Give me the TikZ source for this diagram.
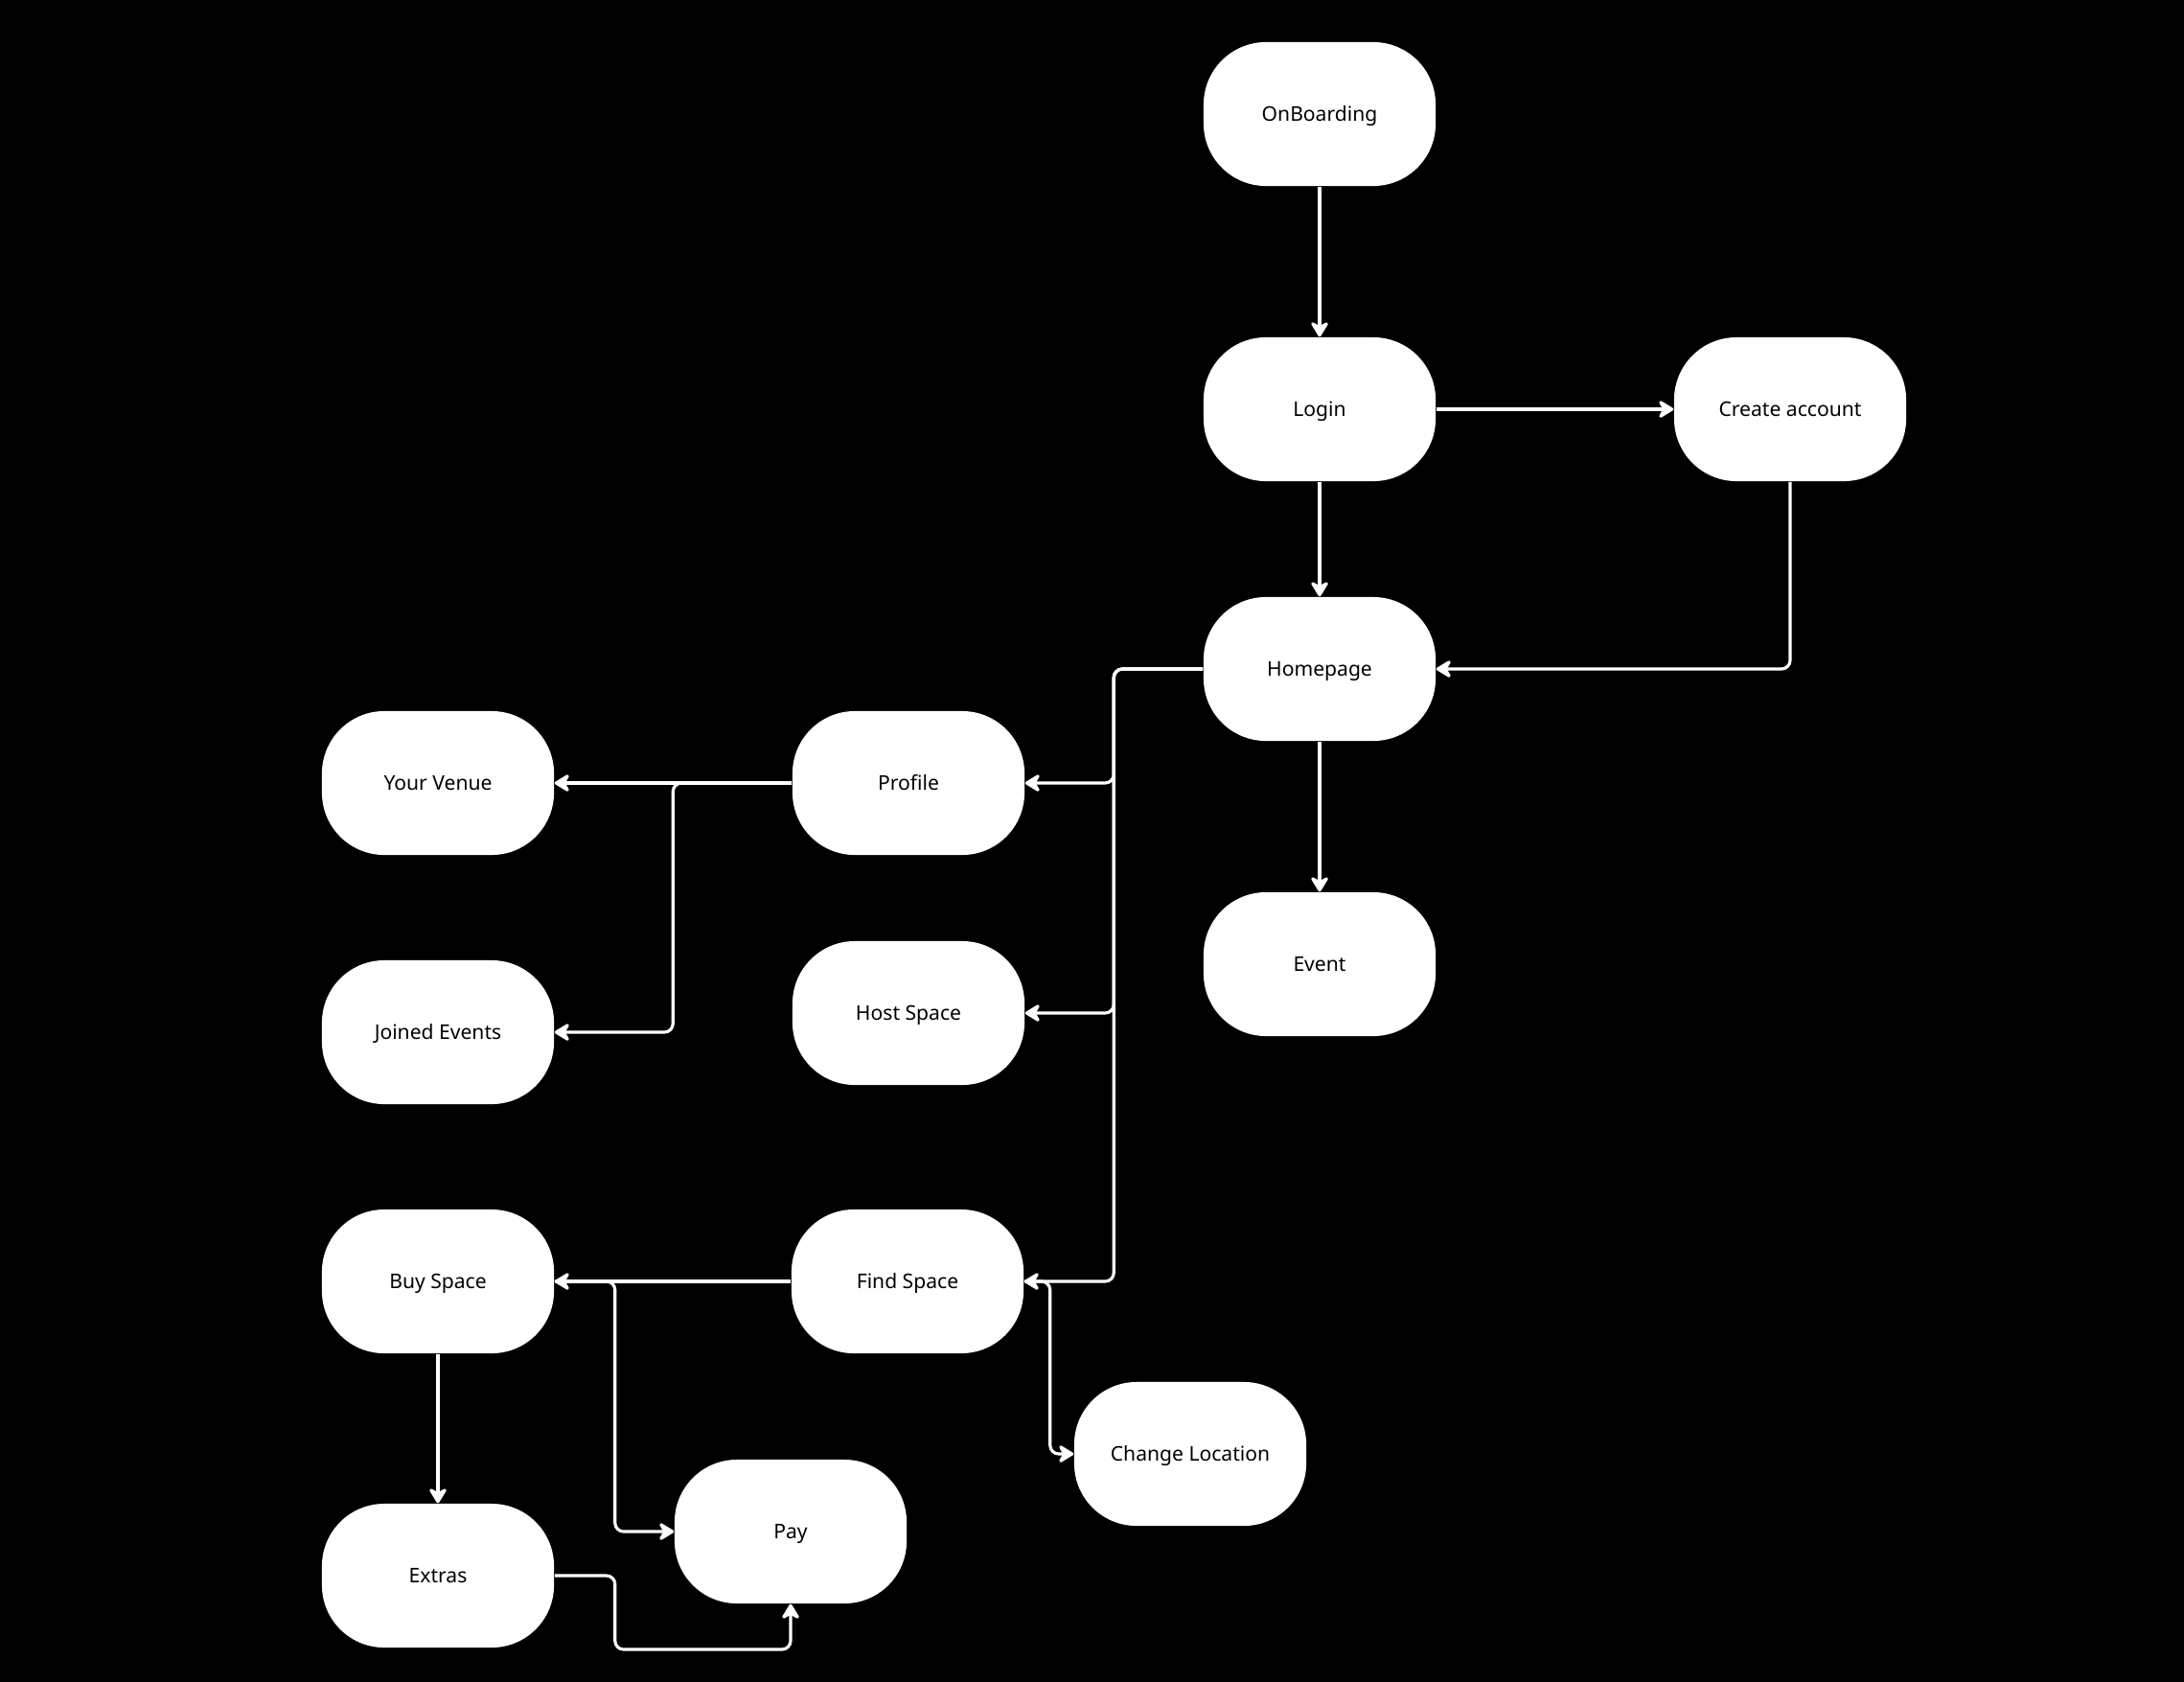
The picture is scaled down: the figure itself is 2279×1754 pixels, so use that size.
\documentclass[tikz,border=0pt]{standalone}
\usepackage{fontspec}
\setmainfont{Noto Sans}
\usetikzlibrary{arrows.meta}
\begin{document}
\begin{tikzpicture}[x=0.01cm,y=-0.01cm,
  box/.style={fill=white, rounded corners=0.65cm, minimum width=2.42cm, minimum height=1.5cm, inner sep=0pt, font=\fontsize{6}{7}\selectfont, text=black, text height=4.1pt, text depth=0pt},
  link/.style={draw=white, line width=0.9pt, rounded corners=0.09cm, -{Stealth[length=1.9mm,width=2.3mm,inset=0.65mm,round]}}]
\useasboundingbox (0,0) rectangle (2279,1754);
\fill[black] (-20,-20) rectangle (2299,1774);
\node[box] (onb) at (1377,119) {OnBoarding};
\node[box] (login) at (1377,427) {Login};
\node[box] (create) at (1868,427) {Create account};
\node[box] (home) at (1377,698) {Homepage};
\node[box] (profile) at (948,817) {Profile};
\node[box] (venue) at (457,817) {Your Venue};
\node[box] (event) at (1377,1006) {Event};
\node[box] (host) at (948,1057) {Host Space};
\node[box] (joined) at (457,1077) {Joined Events};
\node[box] (buy) at (457,1337) {Buy Space};
\node[box] (find) at (947,1337) {Find Space};
\node[box] (change) at (1242,1517) {Change Location};
\node[box] (pay) at (825,1598) {Pay};
\node[box] (extras) at (457,1644) {Extras};
\draw[link] (onb) -- (login);
\draw[link] (login) -- (create);
\draw[link] (login) -- (home);
\draw[link] (create.south) |- (home.east);
\draw[link] (home) -- (event);
\draw[link] (home.west) -- ++(-93,0) |- (profile.east);
\draw[link] (home.west) -- ++(-93,0) |- (host.east);
\draw[link] (home.west) -- ++(-93,0) |- (find.east);
\draw[link] (profile.west) -- (venue.east);
\draw[link] (profile.west) -- ++(-124,0) |- (joined.east);
\draw[link] (find.west) -- (buy.east);
\draw[link] (buy.east) -- ++(63,0) |- (pay.west);
\draw[link] (find.east) -- ++(27,0) |- (change.west);
\draw[link] (buy) -- (extras);
\draw[link] (extras.east) -- ++(63,0) -- ++(0,77) -| (pay.south);
\end{tikzpicture}
\end{document}
